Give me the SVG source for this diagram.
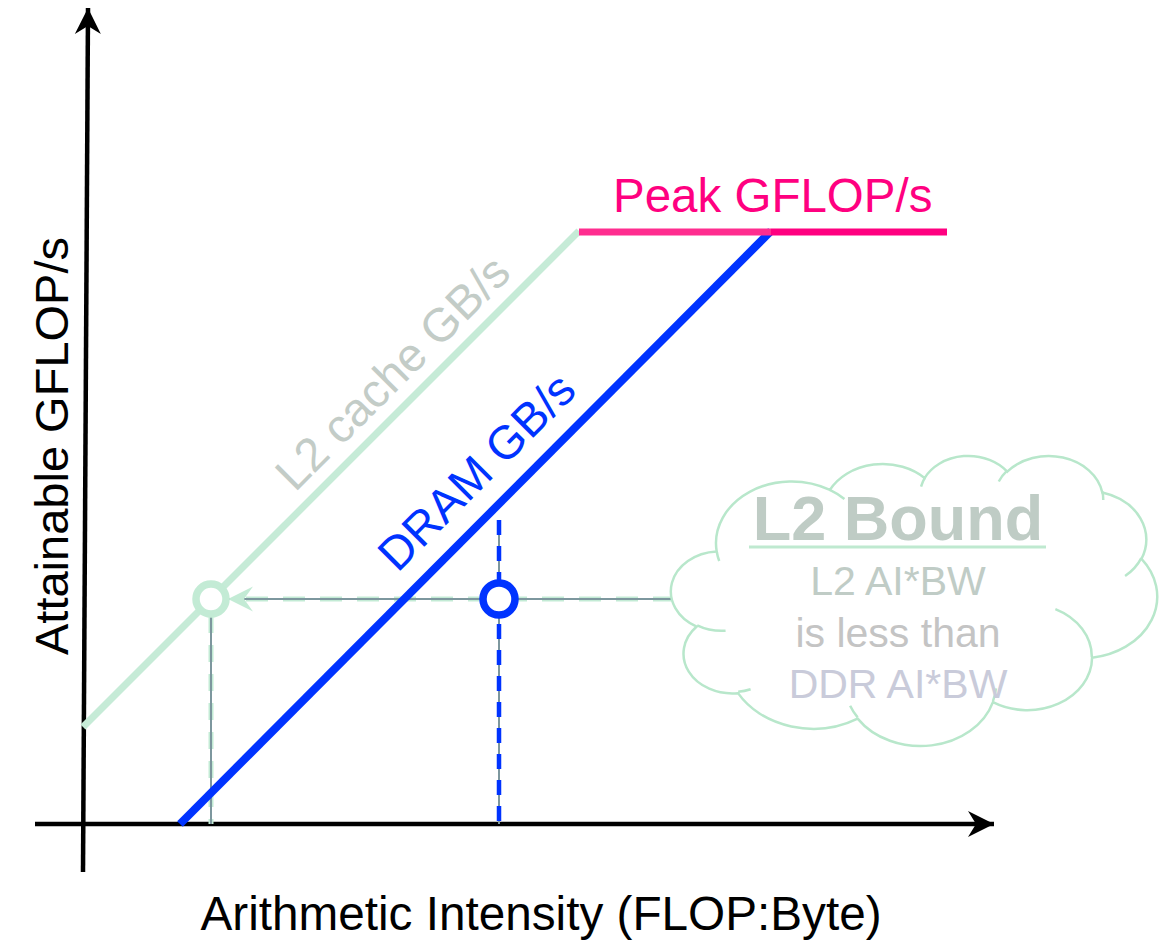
<svg xmlns="http://www.w3.org/2000/svg" width="1160" height="940" viewBox="0 0 1160 940">
  <style>
    text { font-family: "Liberation Sans", Arial, sans-serif; }
    .axis { stroke: #000; stroke-width: 4.5; fill: none; }
    .lbl { font-size: 47px; fill: #000; }
    .guide { stroke: #7d979e; stroke-width: 2; fill: none; }
    .dash-green { stroke: #c3ebd5; stroke-width: 5; fill: none; }
    .dash-blue { stroke: #0033ff; stroke-width: 4.5; fill: none; stroke-dasharray: 15 11; }
    .cloud { fill: #fff; stroke: #b8e7cb; stroke-width: 2.5; }
    .cloud-arc { fill: none; stroke: #b8e7cb; stroke-width: 2.5; }
    .note { font-size: 41px; text-anchor: middle; }
  </style>
  <defs>
    <marker id="axis-head" viewBox="-28 -14 30 28" refX="0" refY="0" markerWidth="30" markerHeight="28" markerUnits="userSpaceOnUse" orient="auto">
      <path d="M0,0 L-26,-13 L-18,0 L-26,13 Z" fill="#000"/>
    </marker>
    <marker id="guide-head" viewBox="-28 -14 30 28" refX="0" refY="0" markerWidth="30" markerHeight="28" markerUnits="userSpaceOnUse" orient="auto">
      <path d="M0,0 L-25,-12.5 L-16,0 L-25,12.5 Z" fill="#c3ebd5"/>
    </marker>
  </defs>

  <!-- axes -->
  <g id="axes">
    <line class="axis" x1="83" y1="872" x2="88" y2="8" marker-end="url(#axis-head)"/>
    <line class="axis" x1="35" y1="824" x2="994" y2="824" marker-end="url(#axis-head)"/>
    <text class="lbl" transform="translate(68,446) rotate(-90)" text-anchor="middle" font-size="48">Attainable GFLOP/s</text>
    <text class="lbl" x="541" y="930" text-anchor="middle" style="font-size:47.7px">Arithmetic Intensity (FLOP:Byte)</text>
  </g>

  <!-- roofline bounds -->
  <g id="l2-roof">
    <line x1="83" y1="727" x2="579" y2="231" stroke="#c6ebd7" stroke-width="7"/>
    <text transform="translate(404,384) rotate(-45)" text-anchor="middle" font-size="47" fill="#c3ccc7">L2 cache GB/s</text>
  </g>

  <g id="connectors">
    <!-- projection from the cloud to the L2 roof -->
    <line class="dash-green" x1="675" y1="599" x2="232" y2="599" stroke-dasharray="22 15"/>
    <line class="guide" x1="675" y1="599" x2="228" y2="599" marker-end="url(#guide-head)"/>
    <!-- drop from the L2 point -->
    <line class="dash-green" x1="211" y1="616" x2="211" y2="824" stroke-width="3.5" stroke-dasharray="17 12"/>
    <line class="guide" x1="211" y1="616" x2="211" y2="824"/>
    <!-- drop from the DRAM point -->
    <line class="guide" x1="499" y1="520" x2="499" y2="824"/>
    <line class="dash-blue" x1="499" y1="520" x2="499" y2="824"/>
  </g>

  <g id="dram-roof">
    <line x1="180" y1="824" x2="771" y2="231" stroke="#0033ff" stroke-width="8"/>
    <text transform="translate(488,483) rotate(-45)" text-anchor="middle" font-size="47" fill="#0033ff">DRAM GB/s</text>
  </g>

  <g id="peak">
    <line x1="579" y1="232" x2="771" y2="232" stroke="#ff2d8f" stroke-width="7"/>
    <line x1="771" y1="232" x2="947" y2="232" stroke="#ff0080" stroke-width="7"/>
    <text x="613" y="212" font-size="47.5" fill="#ff0080">Peak GFLOP/s</text>
  </g>

  <g id="l2-point">
    <circle cx="211" cy="599" r="15" fill="#fff" stroke="#c3ebd5" stroke-width="7.5"/>
  </g>
  <g id="dram-point">
    <circle cx="499" cy="599" r="16" fill="#fff" stroke="#0033ff" stroke-width="7.5"/>
  </g>

  <!-- cloud callout -->
  <g id="l2-bound">
    <path class="cloud" d="M716.69,551.47
      A75.66,61.69 0 0 1 829.91,489.92
      A59.75,48.78 0 0 1 924.59,478.04
      A48.90,39.91 0 0 1 1007.25,471.65
      A54.42,44.27 0 0 1 1102.31,492.43
      A59.75,48.82 0 0 1 1141.52,558.78
      A75.90,61.89 0 0 1 1092.07,657.76
      A64.81,52.81 0 0 1 992.93,702.13
      A75.65,61.86 0 0 1 857.65,718.59
      A86.49,70.78 0 0 1 738.05,693.15
      A48.85,39.73 0 0 1 696.68,626.56
      A48.68,39.91 0 0 1 716.69,551.47 Z"/>
    <path class="cloud-arc" d="M725.58,630.73 A48.68,39.91 0 0 1 697.19,625.37
      M750.62,689.28 A48.85,39.73 0 0 1 738.20,691.84
      M857.62,717.41 A75.65,61.86 0 0 1 850.13,705.72
      M995.97,688.28 A75.65,61.86 0 0 1 992.98,701.10
      M1055.37,609.09 A64.81,52.81 0 0 1 1091.80,656.99
      M1141.30,558.07 A59.75,48.82 0 0 1 1125.07,576.03
      M1102.37,491.42 A54.42,44.27 0 0 1 1103.23,499.91
      M998.78,481.53 A54.42,44.27 0 0 1 1007.10,470.70
      M921.06,486.69 A48.90,39.91 0 0 1 925.08,477.36
      M829.85,489.85 A75.66,61.69 0 0 1 844.42,498.91
      M719.24,560.99 A75.66,61.69 0 0 1 716.70,551.48"/>
    <text x="898" y="540" font-size="63" font-weight="bold" text-anchor="middle" fill="#bfccc5">L2 Bound</text>
    <line x1="749" y1="547" x2="1046" y2="547" stroke="#bfe9d0" stroke-width="3"/>
    <text class="note" x="898" y="595" fill="#c0ccc6">L2 AI*BW</text>
    <text class="note" x="898" y="647" fill="#c4c4c4">is less than</text>
    <text class="note" x="898" y="698" fill="#c9cbda">DDR AI*BW</text>
  </g>
</svg>
